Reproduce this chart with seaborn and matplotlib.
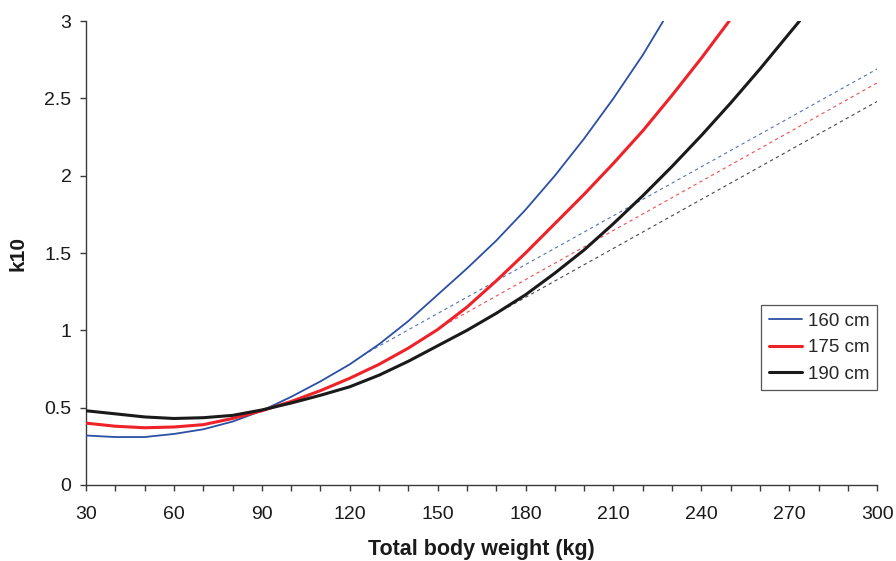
import numpy as np
import pandas as pd
import matplotlib
matplotlib.use("Agg")
import matplotlib.pyplot as plt
from matplotlib.ticker import MultipleLocator, FixedLocator
import seaborn as sns

# k10 versus total body weight for three heights
weight_160 = [30, 40, 50, 60, 70, 80, 90, 100, 110, 120, 130, 140, 150, 160,
              170, 180, 190, 200, 210, 220, 227]
k10_160 = [0.32, 0.31, 0.31, 0.33, 0.36, 0.41, 0.48, 0.57, 0.67, 0.78, 0.91,
           1.06, 1.23, 1.40, 1.58, 1.78, 2.00, 2.24, 2.50, 2.78, 3.00]

weight_175 = [30, 40, 50, 60, 70, 80, 90, 100, 110, 120, 130, 140, 150, 160,
              170, 180, 190, 200, 210, 220, 230, 240, 249.5]
k10_175 = [0.40, 0.38, 0.37, 0.375, 0.39, 0.43, 0.48, 0.54, 0.61, 0.69, 0.78,
           0.885, 1.005, 1.15, 1.32, 1.50, 1.69, 1.88, 2.08, 2.29, 2.52, 2.76,
           3.00]

weight_190 = [30, 40, 50, 60, 70, 80, 90, 100, 110, 120, 130, 140, 150, 160,
              170, 180, 190, 200, 210, 220, 230, 240, 250, 260, 270, 273.5]
k10_190 = [0.48, 0.46, 0.44, 0.43, 0.435, 0.45, 0.485, 0.53, 0.58, 0.635, 0.71,
           0.80, 0.90, 1.00, 1.11, 1.23, 1.37, 1.52, 1.69, 1.87, 2.06, 2.26,
           2.47, 2.69, 2.92, 3.00]

# linear extrapolation segments (start and end weight / k10)
lin_weight_160 = [124.5, 300]
lin_k10_160 = [0.84, 2.69]
lin_weight_175 = [150, 300]
lin_k10_175 = [1.01, 2.60]
lin_weight_190 = [174, 300]
lin_k10_190 = [1.15, 2.48]

heights = ["160 cm", "175 cm", "190 cm"]
x_ticks = [30, 60, 90, 120, 150, 180, 210, 240, 270, 300]
y_ticks = [0, 0.5, 1, 1.5, 2, 2.5, 3]
y_tick_labels = ["0", "0.5", "1", "1.5", "2", "2.5", "3"]

colors = {"160 cm": "#2A4FA5", "175 cm": "#EE2229", "190 cm": "#1A1A1A"}
widths = {"160 cm": 1.3, "175 cm": 2.2, "190 cm": 2.2}

curves = pd.concat([
    pd.DataFrame({"weight": weight_160, "k10": k10_160, "height": heights[0]}),
    pd.DataFrame({"weight": weight_175, "k10": k10_175, "height": heights[1]}),
    pd.DataFrame({"weight": weight_190, "k10": k10_190, "height": heights[2]}),
], ignore_index=True)

lines = [
    (lin_weight_160, lin_k10_160, heights[0]),
    (lin_weight_175, lin_k10_175, heights[1]),
    (lin_weight_190, lin_k10_190, heights[2]),
]

sns.set_style("ticks")
plt.rcParams["font.family"] = ["Liberation Sans", "DejaVu Sans"]

fig = plt.figure(figsize=(8.96, 5.61), dpi=100)
ax = fig.add_axes([0.096, 0.1355, 0.883, 0.827])

# thin dashed extrapolations first, solid curves on top
for xs, ys, h in lines:
    ax.plot(xs, ys, color=colors[h], lw=0.8, ls=(0, (3, 3)), alpha=0.8,
            zorder=2)

for h in heights:
    sns.lineplot(data=curves[curves["height"] == h], x="weight", y="k10",
                 color=colors[h], lw=widths[h], ax=ax, label=h,
                 estimator=None, sort=True, zorder=3)

ax.set_xlim(30, 300)
ax.set_ylim(0, 3)
ax.xaxis.set_major_locator(FixedLocator(x_ticks))
ax.xaxis.set_minor_locator(MultipleLocator(10))
ax.set_yticks(y_ticks)
ax.set_yticklabels(y_tick_labels)

spine_color = "#3A3A3A"
for side in ["top", "right"]:
    ax.spines[side].set_visible(False)
for side in ["left", "bottom"]:
    ax.spines[side].set_color(spine_color)
    ax.spines[side].set_linewidth(1.0)

ax.tick_params(axis="both", which="both", direction="out", length=4.5,
               width=1.0, color=spine_color, labelsize=14,
               labelcolor="#1A1A1A")
ax.tick_params(axis="x", which="major", pad=10.5)
ax.tick_params(axis="y", which="major", pad=6)

ax.set_xlabel("Total body weight (kg)", fontsize=15.5, fontweight="bold",
              labelpad=12, color="#1A1A1A")
ax.set_ylabel("k10", fontsize=15, fontweight="bold", labelpad=12,
              color="#1A1A1A")

leg = ax.legend(loc="upper right", bbox_to_anchor=(0.979, 0.456),
                bbox_transform=fig.transFigure, frameon=True, fancybox=False,
                fontsize=13.5, handlelength=1.8, handletextpad=0.3,
                borderpad=0.4, labelspacing=0.5, borderaxespad=0)
leg.get_frame().set_edgecolor("#2A2A2A")
leg.get_frame().set_linewidth(0.9)

fig.savefig("out.png", dpi=100)
